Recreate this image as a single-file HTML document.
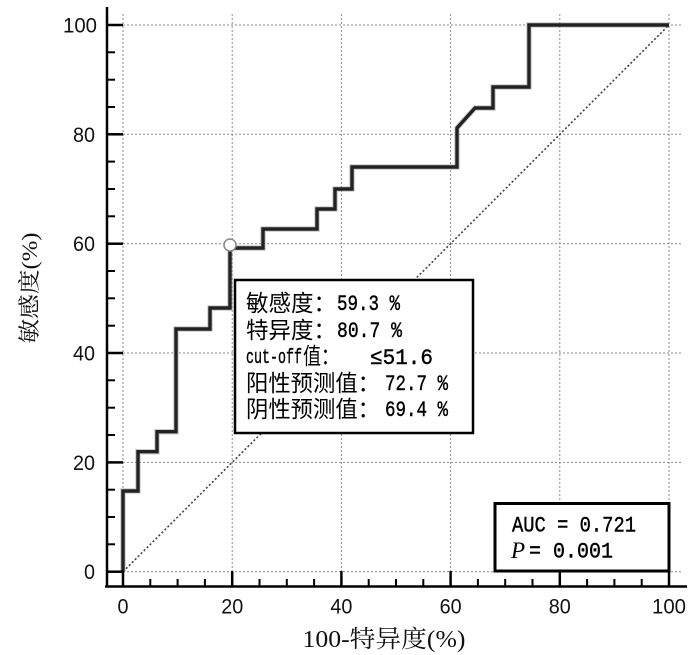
<!DOCTYPE html>
<html>
<head>
<meta charset="utf-8">
<style>
html,body{margin:0;padding:0;background:#fff;}
svg{display:block;}
</style>
</head>
<body>
<svg width="700" height="655" viewBox="0 0 700 655" xmlns="http://www.w3.org/2000/svg">
<rect x="0" y="0" width="700" height="655" fill="#fff"/>
<!-- grid -->
<g stroke="#8a8a8a" stroke-width="1" stroke-dasharray="2,2" fill="none">
  <line x1="123" y1="14" x2="123" y2="571.7"/>
  <line x1="232.2" y1="14" x2="232.2" y2="571.7"/>
  <line x1="341.4" y1="14" x2="341.4" y2="571.7"/>
  <line x1="450.6" y1="14" x2="450.6" y2="571.7"/>
  <line x1="559.8" y1="14" x2="559.8" y2="571.7"/>
  <line x1="669" y1="14" x2="669" y2="571.7"/>
  <line x1="123" y1="25" x2="683" y2="25"/>
  <line x1="123" y1="134.3" x2="683" y2="134.3"/>
  <line x1="123" y1="243.7" x2="683" y2="243.7"/>
  <line x1="123" y1="353" x2="683" y2="353"/>
  <line x1="123" y1="462.4" x2="683" y2="462.4"/>
  <line x1="123" y1="571.7" x2="683" y2="571.7"/>
</g>
<!-- diagonal -->
<line x1="123" y1="571.7" x2="669" y2="25" stroke="#444" stroke-width="1.6" stroke-dasharray="2,2.2"/>
<!-- ROC curve -->
<polyline fill="none" stroke="#999" stroke-width="5.5" stroke-linejoin="miter" opacity="0.5"
 points="123,571.7 123,491 138,491 138,451.7 157,451.7 157,431.7 176,431.7 176,329 210,329 210,308 230,308 230,248 263,248 263,229 317,229 317,209 335,209 335,189 352,189 352,167 457,167 457,128 475,108 493,108 493,87 529,87 529,25 669,25"/>
<polyline fill="none" stroke="#222" stroke-width="3.4" stroke-linejoin="miter"
 points="123,571.7 123,491 138,491 138,451.7 157,451.7 157,431.7 176,431.7 176,329 210,329 210,308 230,308 230,248 263,248 263,229 317,229 317,209 335,209 335,189 352,189 352,167 457,167 457,128 475,108 493,108 493,87 529,87 529,25 669,25"/>
<circle cx="230" cy="245" r="6" fill="#fff" stroke="#888" stroke-width="1.5"/>
<!-- axes -->
<g stroke="#000" fill="none">
  <line x1="107" y1="7" x2="107" y2="587.5" stroke-width="2.5"/>
  <line x1="105" y1="586.5" x2="687" y2="586.5" stroke-width="2.5"/>
  <g stroke-width="2.5">
    <line x1="107" y1="25" x2="123" y2="25"/>
    <line x1="107" y1="134.3" x2="123" y2="134.3"/>
    <line x1="107" y1="243.7" x2="123" y2="243.7"/>
    <line x1="107" y1="353" x2="123" y2="353"/>
    <line x1="107" y1="462.4" x2="123" y2="462.4"/>
    <line x1="107" y1="571.7" x2="123" y2="571.7"/>
  </g>
  <g stroke-width="2">
    <line x1="107" y1="52.3" x2="115" y2="52.3"/>
    <line x1="107" y1="79.7" x2="115" y2="79.7"/>
    <line x1="107" y1="107" x2="115" y2="107"/>
    <line x1="107" y1="161.6" x2="115" y2="161.6"/>
    <line x1="107" y1="189" x2="115" y2="189"/>
    <line x1="107" y1="216.3" x2="115" y2="216.3"/>
    <line x1="107" y1="271" x2="115" y2="271"/>
    <line x1="107" y1="298.3" x2="115" y2="298.3"/>
    <line x1="107" y1="325.7" x2="115" y2="325.7"/>
    <line x1="107" y1="380.3" x2="115" y2="380.3"/>
    <line x1="107" y1="407.7" x2="115" y2="407.7"/>
    <line x1="107" y1="435" x2="115" y2="435"/>
    <line x1="107" y1="489.7" x2="115" y2="489.7"/>
    <line x1="107" y1="517" x2="115" y2="517"/>
    <line x1="107" y1="544.3" x2="115" y2="544.3"/>
  </g>
  <g stroke-width="2.5">
    <line x1="123" y1="586" x2="123" y2="571"/>
    <line x1="232.2" y1="586" x2="232.2" y2="571"/>
    <line x1="341.4" y1="586" x2="341.4" y2="571"/>
    <line x1="450.6" y1="586" x2="450.6" y2="571"/>
    <line x1="559.8" y1="586" x2="559.8" y2="571"/>
    <line x1="669" y1="586" x2="669" y2="571"/>
  </g>
  <g stroke-width="2">
    <line x1="150.3" y1="586" x2="150.3" y2="579"/>
    <line x1="177.6" y1="586" x2="177.6" y2="579"/>
    <line x1="204.9" y1="586" x2="204.9" y2="579"/>
    <line x1="259.5" y1="586" x2="259.5" y2="579"/>
    <line x1="286.8" y1="586" x2="286.8" y2="579"/>
    <line x1="314.1" y1="586" x2="314.1" y2="579"/>
    <line x1="368.7" y1="586" x2="368.7" y2="579"/>
    <line x1="396" y1="586" x2="396" y2="579"/>
    <line x1="423.3" y1="586" x2="423.3" y2="579"/>
    <line x1="477.9" y1="586" x2="477.9" y2="579"/>
    <line x1="505.2" y1="586" x2="505.2" y2="579"/>
    <line x1="532.5" y1="586" x2="532.5" y2="579"/>
    <line x1="587.1" y1="586" x2="587.1" y2="579"/>
    <line x1="614.4" y1="586" x2="614.4" y2="579"/>
    <line x1="641.7" y1="586" x2="641.7" y2="579"/>
  </g>
</g>
<!-- tick labels -->
<g font-family="'Liberation Sans', sans-serif" font-size="21" fill="#111">
  <text x="97" y="32.5" text-anchor="end" textLength="34" lengthAdjust="spacingAndGlyphs">100</text>
  <text x="95" y="141.8" text-anchor="end" textLength="22" lengthAdjust="spacingAndGlyphs">80</text>
  <text x="95" y="251.2" text-anchor="end" textLength="22" lengthAdjust="spacingAndGlyphs">60</text>
  <text x="95" y="360.5" text-anchor="end" textLength="22" lengthAdjust="spacingAndGlyphs">40</text>
  <text x="95" y="469.9" text-anchor="end" textLength="22" lengthAdjust="spacingAndGlyphs">20</text>
  <text x="95" y="579.2" text-anchor="end" textLength="11" lengthAdjust="spacingAndGlyphs">0</text>
  <text x="123" y="613.5" text-anchor="middle" textLength="11" lengthAdjust="spacingAndGlyphs">0</text>
  <text x="232.2" y="613.5" text-anchor="middle" textLength="22" lengthAdjust="spacingAndGlyphs">20</text>
  <text x="341.4" y="613.5" text-anchor="middle" textLength="22" lengthAdjust="spacingAndGlyphs">40</text>
  <text x="450.6" y="613.5" text-anchor="middle" textLength="22" lengthAdjust="spacingAndGlyphs">60</text>
  <text x="559.8" y="613.5" text-anchor="middle" textLength="22" lengthAdjust="spacingAndGlyphs">80</text>
  <text x="669" y="613.5" text-anchor="middle" textLength="34" lengthAdjust="spacingAndGlyphs">100</text>
</g>
<!-- axis titles -->
<text x="384" y="647" text-anchor="middle" font-family="'Liberation Serif', 'Noto Serif CJK SC', serif" font-size="24" fill="#111" textLength="163" lengthAdjust="spacingAndGlyphs">100-特异度(%)</text>
<text transform="translate(37,288) rotate(-90)" x="0" y="0" text-anchor="middle" font-family="'Liberation Serif', 'Noto Serif CJK SC', serif" font-size="22" fill="#111" textLength="111" lengthAdjust="spacingAndGlyphs">敏感度(%)</text>
<!-- info box -->
<rect x="235" y="280" width="238" height="153" fill="#fff" stroke="#000" stroke-width="2.5"/>
<g font-family="'Liberation Sans', 'Noto Sans CJK SC', sans-serif" font-size="23" fill="#000">
  <text x="246" y="311" textLength="90" lengthAdjust="spacingAndGlyphs">敏感度：</text>
  <text x="246" y="338" textLength="90" lengthAdjust="spacingAndGlyphs">特异度：</text>
  <text x="303" y="364" textLength="36" lengthAdjust="spacingAndGlyphs">值：</text>
  <text x="246" y="391" textLength="134" lengthAdjust="spacingAndGlyphs">阳性预测值：</text>
  <text x="246" y="417" textLength="134" lengthAdjust="spacingAndGlyphs">阴性预测值：</text>
</g>
<g font-family="'Liberation Mono', monospace" font-size="22" fill="#000" stroke="#000" stroke-width="0.4">
  <text x="337" y="310" textLength="63" lengthAdjust="spacingAndGlyphs">59.3 %</text>
  <text x="337" y="337" textLength="65" lengthAdjust="spacingAndGlyphs">80.7 %</text>
  <text x="246" y="363" font-size="20" textLength="56" lengthAdjust="spacingAndGlyphs">cut-off</text>
  <text x="370" y="364" textLength="63" lengthAdjust="spacingAndGlyphs">≤51.6</text>
  <text x="385" y="390" textLength="63" lengthAdjust="spacingAndGlyphs">72.7 %</text>
  <text x="385" y="416" textLength="63" lengthAdjust="spacingAndGlyphs">69.4 %</text>
</g>
<!-- AUC box -->
<rect x="495" y="503.5" width="174" height="67.5" fill="#fff" stroke="#000" stroke-width="3"/>
<text x="512" y="531.5" font-family="'Liberation Mono', monospace" font-size="22" fill="#000" stroke="#000" stroke-width="0.4" textLength="124" lengthAdjust="spacingAndGlyphs">AUC = 0.721</text>
<text x="511" y="558" font-family="'Liberation Serif', serif" font-style="italic" font-size="23" fill="#000">P</text>
<text x="529" y="557.5" font-family="'Liberation Mono', monospace" font-size="22" fill="#000" stroke="#000" stroke-width="0.4" textLength="84" lengthAdjust="spacingAndGlyphs">= 0.001</text>
</svg>
</body>
</html>
